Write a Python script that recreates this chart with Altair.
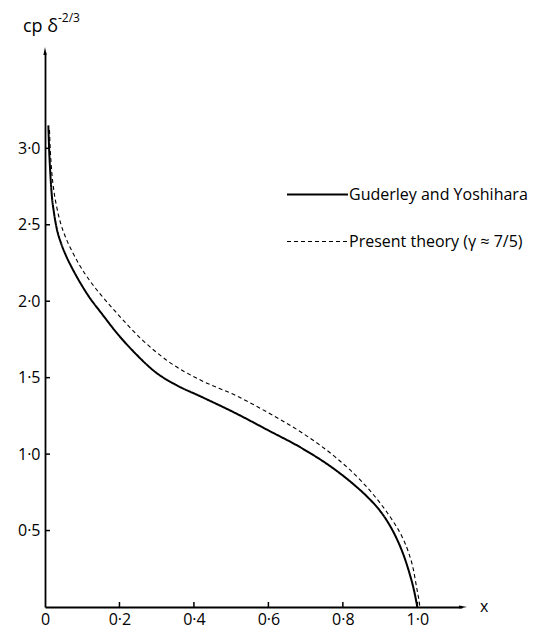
import altair as alt
import pandas as pd

# ---- data ----
series_names = ["Guderley and Yoshihara", "Present theory (γ ≈ 7/5)"]

gud_x = [0.009, 0.011, 0.014, 0.018, 0.024, 0.032, 0.043, 0.056, 0.072, 0.090,
         0.118, 0.152, 0.197, 0.242, 0.300, 0.350, 0.420, 0.510, 0.600, 0.689,
         0.778, 0.830, 0.868, 0.898, 0.922, 0.944, 0.963, 0.979, 0.991, 1.000]
gud_y = [3.15, 3.00, 2.85, 2.70, 2.58, 2.47, 2.38, 2.30, 2.22, 2.14,
         2.03, 1.92, 1.78, 1.66, 1.53, 1.455, 1.375, 1.27, 1.155, 1.04,
         0.90, 0.80, 0.715, 0.635, 0.55, 0.45, 0.34, 0.22, 0.11, 0.0]

pres_x = [0.012, 0.014, 0.018, 0.024, 0.032, 0.042, 0.055, 0.072, 0.092, 0.120,
          0.154, 0.190, 0.260, 0.332, 0.421, 0.511, 0.600, 0.690, 0.780, 0.851,
          0.900, 0.935, 0.959, 0.976, 0.989, 0.998, 1.004, 1.007]
pres_y = [3.12, 3.00, 2.85, 2.72, 2.61, 2.51, 2.42, 2.33, 2.24, 2.135,
          2.03, 1.93, 1.75, 1.605, 1.48, 1.385, 1.27, 1.14, 0.98, 0.82,
          0.68, 0.56, 0.46, 0.36, 0.25, 0.13, 0.05, 0.0]

x_tick_values = [0, 0.2, 0.4, 0.6, 0.8, 1.0]
y_tick_values = [0.5, 1.0, 1.5, 2.0, 2.5, 3.0]
x_axis_max = 1.12
y_axis_max = 3.63

rows = []
for i, (a, b) in enumerate(zip(gud_x, gud_y)):
    rows.append({"x": a, "y": b, "series": series_names[0], "order": i})
for i, (a, b) in enumerate(zip(pres_x, pres_y)):
    rows.append({"x": a, "y": b, "series": series_names[1], "order": i})
df = pd.DataFrame(rows)

FONT = "Open Sans"
W, H = 417, 555

xs = alt.Scale(domain=[0, x_axis_max], nice=False, zero=False)
ys = alt.Scale(domain=[0, y_axis_max], nice=False, zero=False)
lbl = "datum.value == 0 ? '0' : replace(format(datum.value, '.1f'), '.', '·')"

x_axis = alt.Axis(values=x_tick_values, labelExpr=lbl, title=None, ticks=False,
                  grid=False, domainColor="black", domainWidth=1.8,
                  labelFontSize=16, labelFont=FONT, labelColor="black",
                  labelPadding=4, labelFlush=False)
y_axis = alt.Axis(values=y_tick_values, labelExpr=lbl, title=None, ticks=False,
                  grid=False, domainColor="black", domainWidth=1.8,
                  labelFontSize=16, labelFont=FONT, labelColor="black",
                  labelPadding=5)

X = alt.X("x:Q", scale=xs, axis=x_axis)
Y = alt.Y("y:Q", scale=ys, axis=y_axis)

lines = alt.Chart(df).mark_line(color="black", interpolate="monotone").encode(
    x=X,
    y=Y,
    strokeDash=alt.StrokeDash(
        "series:N",
        scale=alt.Scale(domain=series_names, range=[[1, 0], [4, 3]]),
        legend=alt.Legend(title=None, orient="none", legendX=241, legendY=111,
                          symbolType="stroke", symbolSize=3721,
                          symbolStrokeColor="black", symbolStrokeWidth=1.5,
                          labelFontSize=16, labelFont=FONT, labelColor="black",
                          labelLimit=400, rowPadding=7, labelOffset=0,
                          padding=0),
    ),
    strokeWidth=alt.StrokeWidth(
        "series:N",
        scale=alt.Scale(domain=series_names, range=[2.0, 1.1]),
        legend=None,
    ),
    order="order:Q",
)

xticks = alt.Chart(pd.DataFrame({"x": x_tick_values[1:]})).mark_rule(
    color="black", strokeWidth=1.5
).encode(x=X, y=alt.value(H), y2=alt.value(H - 5))

yticks = alt.Chart(pd.DataFrame({"y": y_tick_values})).mark_rule(
    color="black", strokeWidth=1.5
).encode(y=Y, x=alt.value(0), x2=alt.value(5))

UP = "M0,-1L0.32,0.6L-0.32,0.6Z"
RIGHT = "M1,0L-0.6,0.32L-0.6,-0.32Z"
arrows = alt.Chart(pd.DataFrame({"x": [0, x_axis_max], "y": [y_axis_max, 0],
                                 "dir": ["up", "right"]})).mark_point(
    filled=True, color="black", size=100, opacity=1
).encode(
    x=X, y=Y,
    shape=alt.Shape("dir:N", scale=alt.Scale(domain=["up", "right"], range=[UP, RIGHT]),
                    legend=None),
)

x_label = alt.Chart(pd.DataFrame({"t": ["x"]})).mark_text(
    font=FONT, fontSize=16, color="black", align="left", baseline="middle"
).encode(text="t:N", x=alt.value(435), y=alt.value(H))

title_main = alt.Chart(pd.DataFrame({"t": ["cp δ"]})).mark_text(
    font=FONT, fontSize=18, color="black", align="left", baseline="alphabetic"
).encode(text="t:N", x=alt.value(-22), y=alt.value(-20))

title_sup = alt.Chart(pd.DataFrame({"t": ["-2/3"]})).mark_text(
    font=FONT, fontSize=12, color="black", align="left", baseline="alphabetic"
).encode(text="t:N", x=alt.value(13), y=alt.value(-30))

chart = alt.layer(lines, xticks, yticks, arrows, x_label, title_main, title_sup).properties(
    width=W, height=H,
    padding={"left": 37, "top": 44, "right": 70, "bottom": 24},
    autosize=alt.AutoSizeParams(type="none"),
    background="white",
).configure_view(stroke=None)

chart.save("out.html", embed_options={"renderer": "svg", "actions": False})
